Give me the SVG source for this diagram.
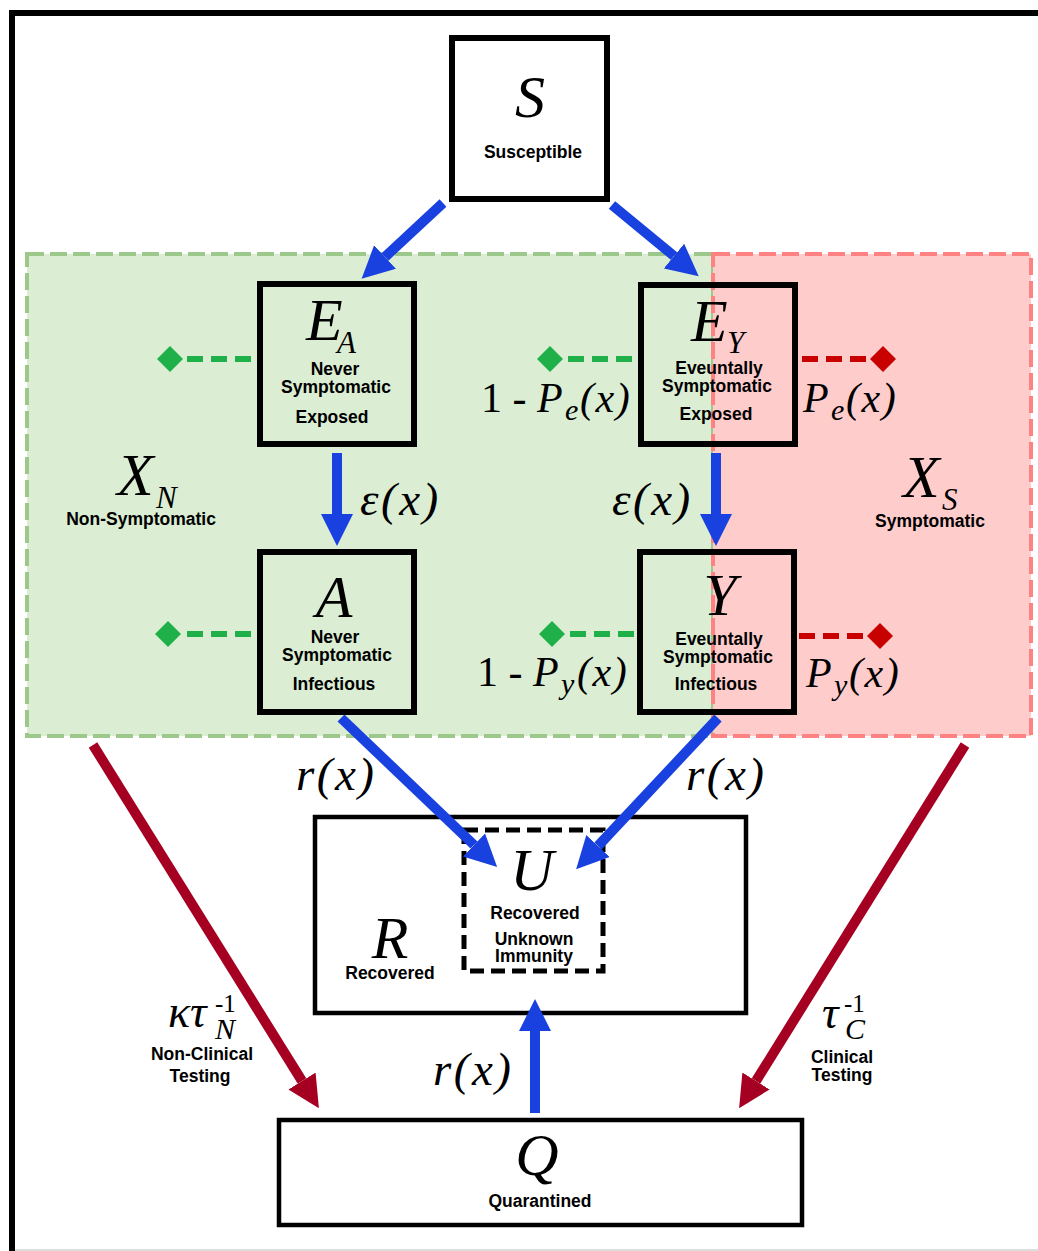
<svg xmlns="http://www.w3.org/2000/svg" width="1038" height="1251" viewBox="0 0 1038 1251">
<defs>
<style>
.box{fill:none;stroke:#000;stroke-width:6}
.wbox{fill:#fff;stroke:#000;stroke-width:4.5}
.m{font-family:"Liberation Serif","DejaVu Serif",serif;font-style:italic;fill:#000}
.u{font-family:"Liberation Serif","DejaVu Serif",serif;fill:#000}
.lb{font-family:"Liberation Sans",Arial,sans-serif;font-weight:bold;font-size:17.5px;fill:#000;text-anchor:middle}
.big{font-size:60px}
.sub{font-size:31px}
.fx{font-size:47px;letter-spacing:2.5px}
.blue{stroke:#1941e0;stroke-width:10;fill:none;marker-end:url(#ahB)}
.red{stroke:#a50021;stroke-width:10;fill:none;marker-end:url(#ahR)}
.gd{stroke:#20b04a;stroke-width:6;stroke-dasharray:16 8;fill:none}
.rd{stroke:#c80000;stroke-width:6;stroke-dasharray:16 8;fill:none}
</style>
<marker id="ahB" viewBox="0 0 10 10" refX="0" refY="5" markerWidth="3.2" markerHeight="3.4" orient="auto" markerUnits="strokeWidth"><path d="M0,0 L10,5 L0,10 z" fill="#1941e0"/></marker>
<marker id="ahR" viewBox="0 0 10 10" refX="0" refY="5" markerWidth="3.2" markerHeight="3.2" orient="auto" markerUnits="strokeWidth"><path d="M0,0 L10,5 L0,10 z" fill="#a50021"/></marker>
</defs>
<rect x="0" y="0" width="1038" height="1251" fill="#fff"/>
<path d="M12,1251 V13 H1038" fill="none" stroke="#000" stroke-width="6"/>
<line x1="15" y1="1250" x2="1038" y2="1250" stroke="#ddd" stroke-width="2"/>

<g id="regions">
<rect x="27" y="254" width="686" height="482" fill="#dbeed3" stroke="#9dc88c" stroke-width="4" stroke-dasharray="17 6"/>
<rect x="713" y="254" width="318" height="482" fill="#ffcccc" stroke="#ff8282" stroke-width="4" stroke-dasharray="17 6"/>
</g>

<g id="XN">
<text class="m big" x="117" y="495">X</text>
<text class="m sub" x="156" y="508">N</text>
<text class="lb" x="141" y="525">Non-Symptomatic</text>
</g>
<g id="XS">
<text class="m big" x="903" y="497">X</text>
<text class="m sub" x="942" y="510">S</text>
<text class="lb" x="930" y="527">Symptomatic</text>
</g>

<g id="S">
<rect class="box" x="452" y="38" width="155" height="161" style="fill:#fff"/>
<text class="m big" x="530" y="117" text-anchor="middle">S</text>
<text class="lb" x="533" y="158">Susceptible</text>
</g>

<g id="EA">
<rect class="box" x="260" y="284" width="154" height="160"/>
<text class="m big" x="306" y="340">E</text>
<text class="m sub" x="337" y="353">A</text>
<text class="lb" x="335" y="375">Never</text>
<text class="lb" x="336" y="393">Symptomatic</text>
<text class="lb" x="332" y="423">Exposed</text>
</g>

<g id="EY">
<rect class="box" x="641" y="285" width="154" height="159"/>
<text class="m big" x="691" y="341">E</text>
<text class="m sub" x="727" y="353">Y</text>
<text class="lb" x="719" y="374">Eveuntally</text>
<text class="lb" x="717" y="392">Symptomatic</text>
<text class="lb" x="716" y="420">Exposed</text>
</g>

<g id="A">
<rect class="box" x="260" y="552" width="154" height="160"/>
<text class="m big" x="334" y="617" text-anchor="middle">A</text>
<text class="lb" x="335" y="643">Never</text>
<text class="lb" x="337" y="661">Symptomatic</text>
<text class="lb" x="334" y="690">Infectious</text>
</g>

<g id="Y">
<rect class="box" x="640" y="552" width="154" height="160"/>
<text class="m big" x="720" y="615" text-anchor="middle">Y</text>
<text class="lb" x="719" y="645">Eveuntally</text>
<text class="lb" x="718" y="663">Symptomatic</text>
<text class="lb" x="716" y="690">Infectious</text>
</g>

<g id="R">
<rect class="wbox" x="315" y="817" width="431" height="196"/>
<text class="m big" x="390" y="958" text-anchor="middle">R</text>
<text class="lb" x="390" y="979">Recovered</text>
</g>

<g id="U">
<rect x="464" y="830" width="139" height="141" fill="none" stroke="#000" stroke-width="5" stroke-dasharray="14 7"/>
<text class="m big" x="532" y="890" text-anchor="middle">U</text>
<text class="lb" x="535" y="919">Recovered</text>
<text class="lb" x="534" y="945">Unknown</text>
<text class="lb" x="534" y="962">Immunity</text>
</g>

<g id="Q">
<rect class="wbox" x="279" y="1120" width="523" height="105"/>
<text class="m big" x="537" y="1175" text-anchor="middle">Q</text>
<text class="lb" x="540" y="1207">Quarantined</text>
</g>

<g id="connectors">
<line class="gd" x1="251" y1="359" x2="184" y2="359"/>
<path d="M170,346 L183,359 L170,372 L157,359 z" fill="#20b04a"/>
<line class="gd" x1="251" y1="634" x2="182" y2="634"/>
<path d="M168,621 L181,634 L168,647 L155,634 z" fill="#20b04a"/>
<line class="gd" x1="632" y1="359" x2="564" y2="359"/>
<path d="M550,346 L563,359 L550,372 L537,359 z" fill="#20b04a"/>
<line class="gd" x1="634" y1="634" x2="566" y2="634"/>
<path d="M552,621 L565,634 L552,647 L539,634 z" fill="#20b04a"/>
<line class="rd" x1="802" y1="359" x2="869" y2="359"/>
<path d="M883,346 L896,359 L883,372 L870,359 z" fill="#c80000"/>
<line class="rd" x1="799" y1="636" x2="866" y2="636"/>
<path d="M880,623 L893,636 L880,649 L867,636 z" fill="#c80000"/>

<line class="blue" x1="443" y1="203" x2="385" y2="257"/>
<line class="blue" x1="612" y1="205" x2="674" y2="256"/>
<line class="blue" x1="337" y1="453" x2="337" y2="514"/>
<line class="blue" x1="716" y1="453" x2="716" y2="514"/>
<line class="blue" x1="341" y1="718" x2="474" y2="845"/>
<line class="blue" x1="718" y1="718" x2="598" y2="846"/>
<line class="blue" x1="535" y1="1113" x2="535" y2="1031"/>
<line class="red" x1="93" y1="745" x2="302" y2="1081"/>
<line class="red" x1="965" y1="745" x2="756" y2="1081"/>
</g>

<g id="labels">
<text class="m fx" x="360" y="515">ε(x)</text>
<text class="m fx" x="612" y="515">ε(x)</text>

<text class="u" font-size="42" x="481" y="412">1 -</text>
<text class="m" font-size="42" x="537" y="412">P</text>
<text class="m" font-size="30" x="565" y="420">e</text>
<text class="m" font-size="42" x="580" y="412" letter-spacing="1.5">(x)</text>

<text class="m" font-size="42" x="803" y="412">P</text>
<text class="m" font-size="30" x="831" y="420">e</text>
<text class="m" font-size="42" x="846" y="412" letter-spacing="1.5">(x)</text>

<text class="u" font-size="42" x="477" y="686">1 -</text>
<text class="m" font-size="42" x="533" y="686">P</text>
<text class="m" font-size="30" x="561" y="694">y</text>
<text class="m" font-size="42" x="577" y="686" letter-spacing="1.5">(x)</text>

<text class="m" font-size="42" x="806" y="687">P</text>
<text class="m" font-size="30" x="834" y="695">y</text>
<text class="m" font-size="42" x="849" y="687" letter-spacing="1.5">(x)</text>

<text class="m fx" x="296" y="790">r(x)</text>
<text class="m fx" x="686" y="790">r(x)</text>
<text class="m fx" x="433" y="1085">r(x)</text>

<text class="m" font-size="46" x="168" y="1027">κτ</text>
<text class="u" font-size="25" x="215" y="1012">-1</text>
<text class="m" font-size="30" x="215" y="1039">N</text>
<text class="lb" x="202" y="1060">Non-Clinical</text>
<text class="lb" x="200" y="1082">Testing</text>

<text class="m" font-size="46" x="822" y="1028">τ</text>
<text class="u" font-size="25" x="844" y="1012">-1</text>
<text class="m" font-size="30" x="845" y="1039">C</text>
<text class="lb" x="842" y="1063">Clinical</text>
<text class="lb" x="842" y="1081">Testing</text>
</g>
</svg>
